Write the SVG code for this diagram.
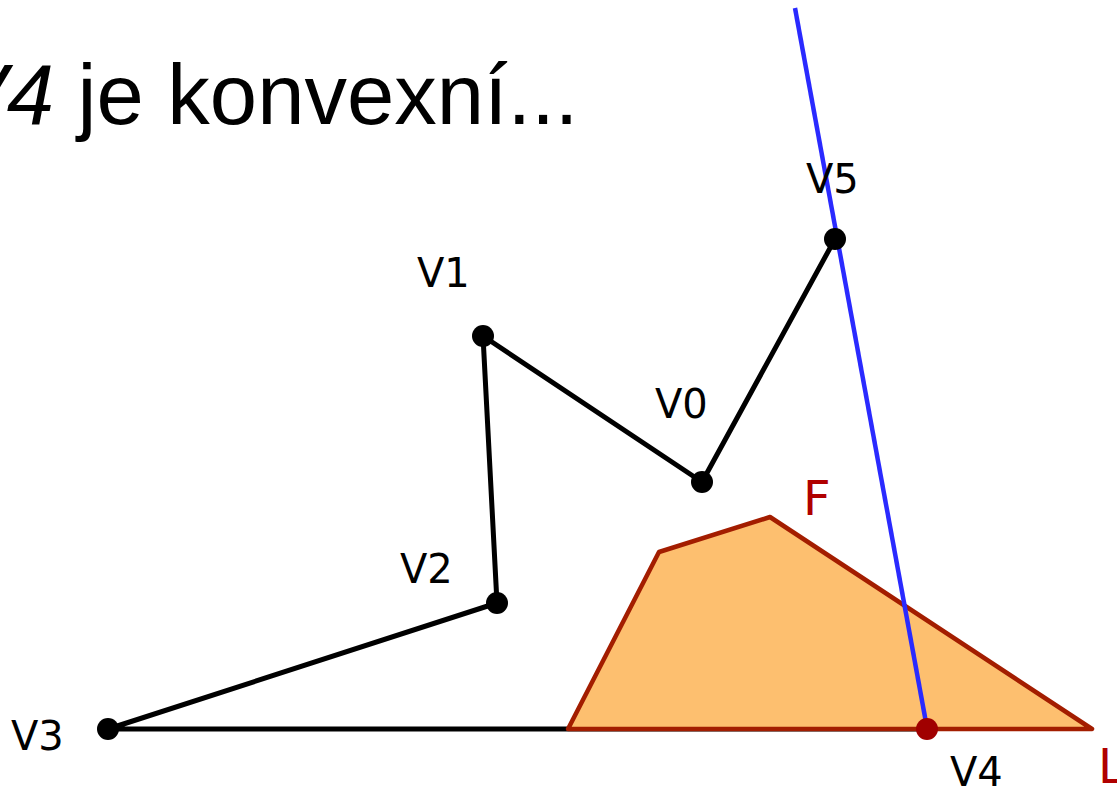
<svg xmlns="http://www.w3.org/2000/svg" width="1117" height="791" viewBox="0 0 1117 791">
<style>
.edge{stroke:#000;stroke-width:5;fill:none;stroke-linecap:round;stroke-linejoin:round}
.lbl{font-family:"DejaVu Sans",sans-serif;font-size:40px;fill:#000}
.red{font-family:"DejaVu Sans",sans-serif;font-size:48px;fill:#b00000}
.dot{fill:#000}
</style>
<rect width="1117" height="791" fill="#fff"/>
<text x="-50" y="124" font-family="Liberation Sans, Arial, sans-serif" font-size="85" fill="#000"><tspan font-style="italic">V4</tspan> je konvexní...</text>
<g id="connectors">
<polyline class="edge" points="835,239 702,482 483,336 497,603 108,729 927,729"/>
</g>
<g id="F">
<polygon points="568,729 659,552 770,517 1092,729" fill="#fdbf6f" stroke="#a31d00" stroke-width="4.5" stroke-linejoin="round"/>
<text class="red" x="803" y="515">F</text>
</g>
<g id="L"><text class="red" x="1098" y="783">L</text></g>
<g id="blue-line"><line x1="795" y1="8" x2="927" y2="728" stroke="#2a2aff" stroke-width="4.5"/></g>
<g id="V0"><circle class="dot" cx="702" cy="482" r="11"/><text class="lbl" x="655" y="418">V0</text></g>
<g id="V1"><circle class="dot" cx="483" cy="336" r="11"/><text class="lbl" x="417" y="287">V1</text></g>
<g id="V2"><circle class="dot" cx="497" cy="603" r="11"/><text class="lbl" x="400" y="583">V2</text></g>
<g id="V3"><circle class="dot" cx="108" cy="729" r="11"/><text class="lbl" x="11" y="750">V3</text></g>
<g id="V4"><circle cx="927" cy="729" r="11" fill="#a00000"/><text class="lbl" x="950" y="786">V4</text></g>
<g id="V5"><circle class="dot" cx="835" cy="239" r="11"/><text class="lbl" x="806" y="193">V5</text></g>
</svg>
